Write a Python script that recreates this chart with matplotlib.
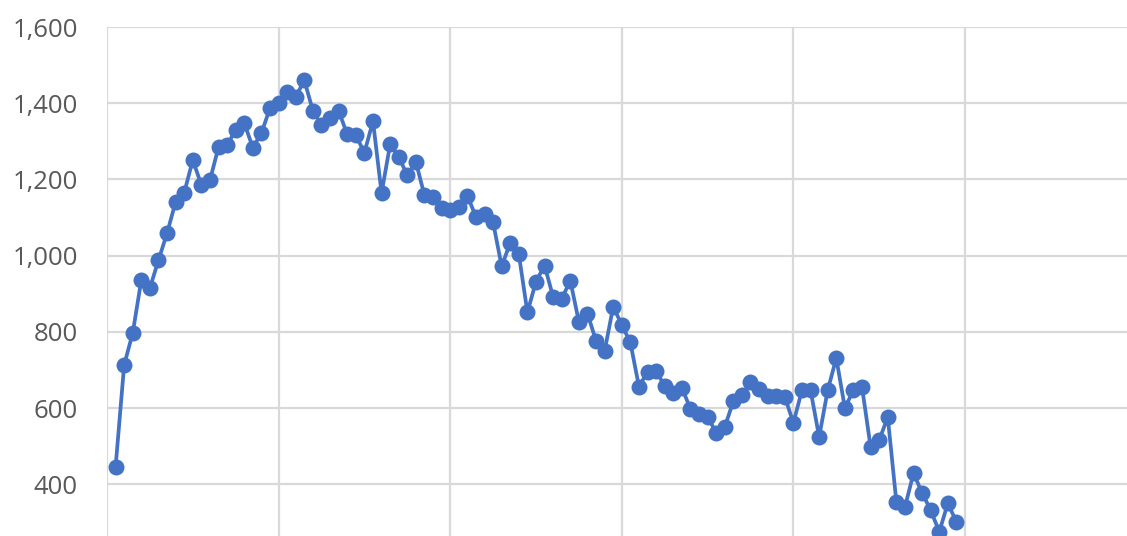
import numpy as np
import matplotlib.pyplot as plt

plt.rc('font', family=['Open Sans', 'DejaVu Sans'])

# daily counts, one entry per day starting at day 1
counts = [
    445, 713, 797, 936, 915, 988, 1059, 1141, 1165, 1251,
    1185, 1198, 1285, 1290, 1330, 1348, 1283, 1322, 1387, 1400,
    1430, 1417, 1460, 1380, 1343, 1362, 1380, 1318, 1316, 1270,
    1353, 1164, 1292, 1259, 1211, 1246, 1158, 1155, 1126, 1120,
    1128, 1157, 1102, 1110, 1087, 972, 1034, 1003, 851, 932,
    974, 891, 887, 934, 826, 848, 776, 750, 866, 818,
    772, 656, 695, 698, 657, 639, 653, 598, 584, 577,
    535, 550, 618, 633, 667, 650, 631, 632, 629, 561,
    647, 647, 524, 647, 731, 600, 647, 655, 497, 516,
    576, 353, 340, 429, 377, 332, 275, 350, 301,
]
days = np.arange(1, len(counts) + 1)

y_ticks = [400, 600, 800, 1000, 1200, 1400, 1600]
x_ticks = [0, 20, 40, 60, 80, 100, 120]

W, H = 1127, 536
fig = plt.figure(figsize=(W / 100, H / 100), dpi=100)

# axes run past the bottom and right edges of the canvas
px_day = 8.58
px_unit = 76.2 / 200
left, top = 107, 27
ax_w = 120 * px_day
ax_h = 1600 * px_unit
ax = fig.add_axes([left / W, (H - top - ax_h) / H, ax_w / W, ax_h / H])

ax.plot(days, counts, color='#4472C4', lw=2.7, marker='o', ms=11.5,
        markeredgewidth=0, solid_joinstyle='round')

ax.set_xlim(0, 120)
ax.set_ylim(0, 1600)
ax.set_xticks(x_ticks)
ax.set_yticks(y_ticks)
ax.set_yticklabels([f'{v:,}' for v in y_ticks])
ax.grid(True, color='#d9d9d9', lw=1.6)
ax.set_axisbelow(True)
for s in ax.spines.values():
    s.set_visible(False)
ax.tick_params(axis='both', length=0)
ax.tick_params(axis='y', labelsize=18.5, labelcolor='#595959', pad=21)
ax.tick_params(axis='x', labelbottom=False)

fig.savefig('out.png', dpi=100)
